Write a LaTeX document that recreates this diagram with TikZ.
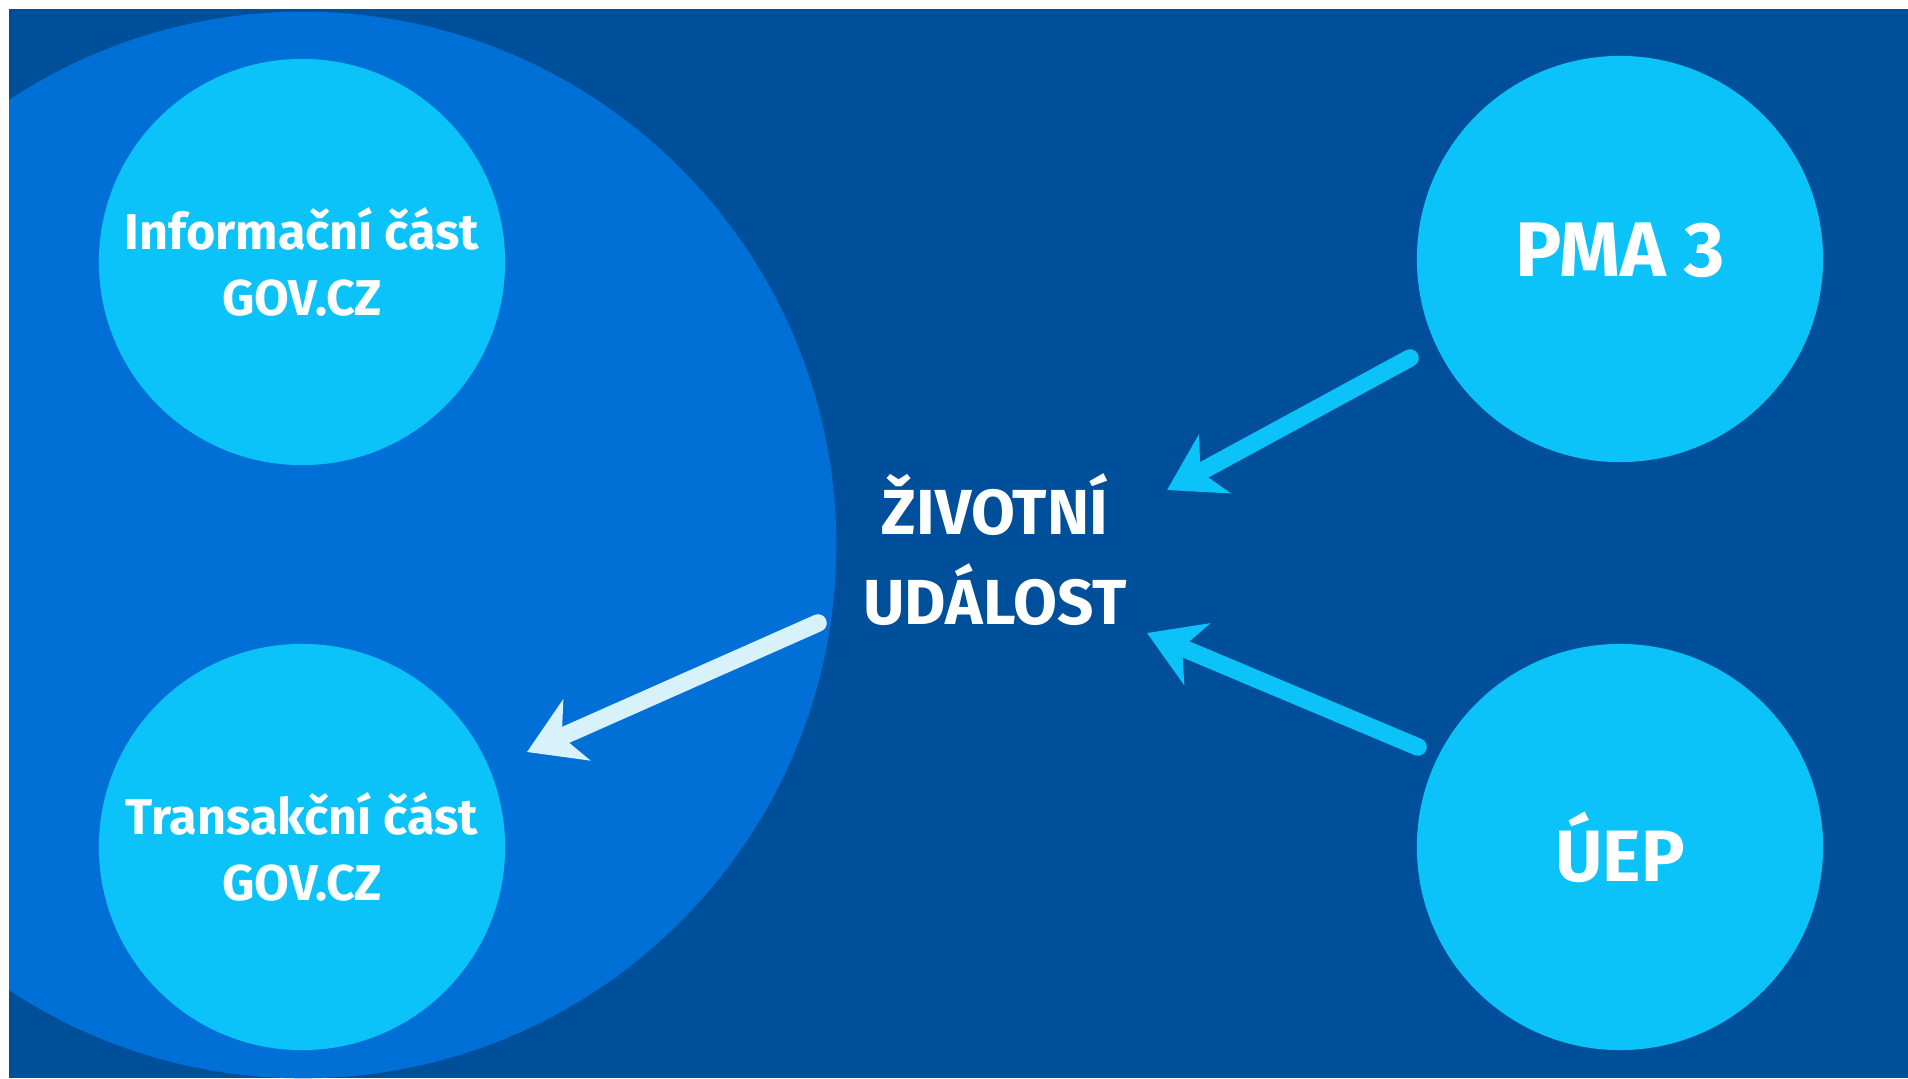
\documentclass[tikz,border=0pt]{standalone}
\usepackage{fontspec}
\setmainfont{Fira Sans}
\usepackage{xcolor}
\usepackage{tikz}
\usetikzlibrary{positioning,calc,arrows.meta}

\definecolor{govdark}{HTML}{004F9B}
\definecolor{govmid}{HTML}{0070D6}
\definecolor{govcyan}{HTML}{0BC3F8}
\definecolor{govpale}{HTML}{D8F2FC}

\tikzset{
    bubble/.style={circle, fill=govcyan, minimum size=4.06cm, inner sep=0pt, text=white, align=center},
    flow/.style={line width=5pt, line cap=round, -{Stealth[length=5.4mm, width=6.6mm, inset=1.6mm]}},
}

\begin{document}
\begin{tikzpicture}[x=0.01cm, y=-0.01cm]
    \useasboundingbox (0,0) rectangle (1908,1078);
    \fill[white] (0,0) rectangle (1908,1078);
    \fill[govdark] (9,9) rectangle (1908,1078);
    
    % portal area
    \begin{scope}
        \clip (9,9) rectangle (1908,1078);
        \fill[govmid] (303,545) circle[radius=5.33cm];
    \end{scope}
    
    \node[bubble, font=\bfseries\fontsize{14.3}{18.8}\selectfont] (info) at (302,262) {Informační část\\GOV.CZ};
    \node[bubble, font=\bfseries\fontsize{14.3}{18.8}\selectfont] (trans) at (302,847) {Transakční část\\GOV.CZ};
    \node[bubble, font=\bfseries\fontsize{22}{24}\selectfont, text depth=0.18cm] (pma) at (1620,259) {PMA 3};
    \node[bubble, font=\bfseries\fontsize{20.7}{24}\selectfont] (uep) at (1620,847) {ÚEP};
    
    \node[text=white, align=center, font=\bfseries\fontsize{18.1}{25.6}\selectfont] (event) at (995,550) {ŽIVOTNÍ\\UDÁLOST};
    
    \coordinate (pmaout) at (1410,358);
    \coordinate (pmain) at (1167,490);
    \coordinate (uepout) at (1418,747);
    \coordinate (uepin) at (1147,633);
    \coordinate (eventout) at (818,623);
    \coordinate (transin) at (527,752);
    
    \draw[flow, govcyan] (pmaout) -- (pmain);
    \draw[flow, govcyan] (uepout) -- (uepin);
    \draw[flow, govpale] (eventout) -- (transin);
\end{tikzpicture}
\end{document}
